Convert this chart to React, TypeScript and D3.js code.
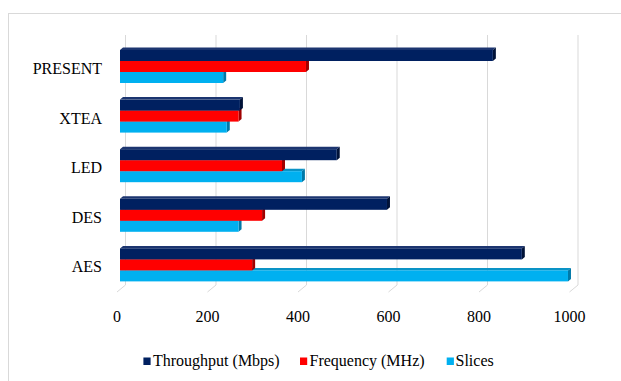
import React from 'react';
import * as d3 from 'd3';

const categories = ['PRESENT', 'XTEA', 'LED', 'DES', 'AES'];
const throughput = [824, 265, 479, 590, 888];
const frequency = [411, 262, 358, 314, 292];
const slices = [228, 236, 402, 262, 990];
const xTicks = [0, 200, 400, 600, 800, 1000];
const seriesNames = ['Throughput (Mbps)', 'Frequency (MHz)', 'Slices'];

const W = 621;
const H = 381;
const textStyle: React.CSSProperties = { fontFamily: "'Liberation Serif'", fontSize: '16px' };

const colors = [
  { front: '#002060', top: '#1C3570', side: '#001238' },
  { front: '#FF0000', top: '#C80000', side: '#A00000' },
  { front: '#00B0F0', top: '#0A93C6', side: '#0079A8' },
];

export default function App() {
  const x = d3.scaleLinear().domain([0, 1000]).range([120, 572.5]);
  const y = d3.scaleBand<string>().domain(categories).range([41.7, 41.7 + 49.6 * 5]).paddingInner(0.335).paddingOuter(0.1675);
  const inner = d3.scaleBand<number>().domain([0, 1, 2]).range([0, y.bandwidth()]);
  const dx = 3;
  const dy = -2.5;
  const series = [throughput, frequency, slices];

  const gridTop = 35;
  const gridBack = 285;
  const gridFront = 292;

  const bars: React.ReactNode[] = [];
  categories.forEach((c, ci) => {
    for (let si = 2; si >= 0; si--) {
      const v = series[si][ci];
      const x0 = x(0);
      const x1 = x(v);
      const t = (y(c) as number) + (inner(si) as number);
      const b = t + inner.bandwidth();
      const col = colors[si];
      bars.push(
        <g key={`${c}-${si}`}>
          <polygon points={`${x0},${t} ${x0 + dx},${t + dy} ${x1 + dx},${t + dy} ${x1},${t}`} fill={col.top} />
          <polygon points={`${x1},${t} ${x1 + dx},${t + dy} ${x1 + dx},${b + dy} ${x1},${b}`} fill={col.side} />
          <rect x={x0} y={t} width={x1 - x0} height={b - t} fill={col.front} />
        </g>
      );
    }
  });

  const legendItems = [
    { sx: 143.4, tx: 153 },
    { sx: 300, tx: 309.5 },
    { sx: 446.7, tx: 455.5 },
  ];

  return (
    <svg width={W} height={H} style={{ position: 'absolute', left: 0, top: 0, background: '#fff' }}>
      <rect x={8.5} y={13.5} width={640} height={400} fill="#fff" stroke="#D9D9D9" strokeWidth={1} />
      {xTicks.map((t) => {
        const bx = x(t) + 5.5;
        const fx = x(t) - 3;
        return (
          <g key={`g${t}`}>
            <line x1={bx} y1={gridTop} x2={bx} y2={gridBack} stroke="#D9D9D9" strokeWidth={1} />
            <line x1={bx} y1={gridBack} x2={fx} y2={gridFront} stroke="#D9D9D9" strokeWidth={1} />
          </g>
        );
      })}
      {bars}
      {categories.map((c) => (
        <text key={c} x={102} y={(y(c) as number) + y.bandwidth() / 2 + 7.5} textAnchor="end" style={textStyle} fill="#000">
          {c}
        </text>
      ))}
      {xTicks.map((t) => (
        <text key={`t${t}`} x={x(t) - 3} y={321.5} textAnchor="middle" style={textStyle} fill="#000">
          {t}
        </text>
      ))}
      {seriesNames.map((n, i) => (
        <g key={n}>
          <rect x={legendItems[i].sx} y={357.5} width={7.2} height={7.5} fill={colors[i].front} />
          <text x={legendItems[i].tx} y={366} style={textStyle} fill="#000">
            {n}
          </text>
        </g>
      ))}
    </svg>
  );
}
